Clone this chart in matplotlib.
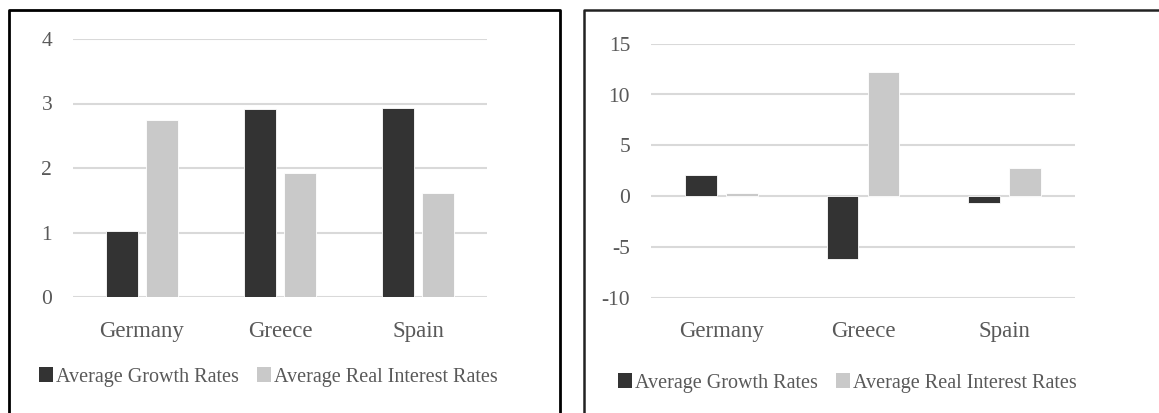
import matplotlib
matplotlib.use("Agg")
import matplotlib.pyplot as plt
from matplotlib.patches import Patch
from matplotlib.lines import Line2D
import numpy as np

countries = ["Germany", "Greece", "Spain"]
series_names = ["Average Growth Rates", "Average Real Interest Rates"]

# Panel A
growth_a = [1.02, 2.92, 2.93]
interest_a = [2.74, 1.92, 1.62]
yticks_a = [0, 1, 2, 3, 4]

# Panel B
growth_b = [2.04, -6.16, -0.72]
interest_b = [0.27, 12.17, 2.79]
yticks_b = [-10, -5, 0, 5, 10, 15]

DARK = "#333333"
LIGHT = "#c9c9c9"
GRID = "#d9d9d9"
TEXT = "#595959"

plt.rcParams["font.family"] = ["Liberation Serif", "DejaVu Serif"]

W, H = 1159, 413
fig = plt.figure(figsize=(W / 100, H / 100), dpi=100)
fig.patch.set_facecolor("white")


def px_axes(x0, y0, x1, y1):
    return fig.add_axes([x0 / W, 1 - y1 / H, (x1 - x0) / W, (y1 - y0) / H])


def draw_panel(ax, growth, interest, yticks, legend_center):
    x = np.arange(len(countries))
    w = 0.225
    off = 0.145
    ax.bar(x - off, growth, w, color=DARK, edgecolor="white", linewidth=0.6, zorder=3)
    ax.bar(x + off, interest, w, color=LIGHT, edgecolor="white", linewidth=0.6, zorder=3)
    ax.set_xlim(-0.5, len(countries) - 0.5)
    ax.set_ylim(yticks[0], yticks[-1])
    ax.set_yticks(yticks)
    ax.set_yticklabels([str(t) for t in yticks])
    ax.set_xticks(x)
    ax.set_xticklabels(countries)
    ax.grid(axis="y", color=GRID, linewidth=1.5, zorder=0)
    ax.set_axisbelow(True)
    for s in ax.spines.values():
        s.set_visible(False)
    ax.tick_params(axis="y", length=0, pad=15, labelsize=15.5, labelcolor=TEXT)
    ax.tick_params(axis="x", length=0, pad=17, labelsize=16.5, labelcolor=TEXT)
    handles = [Patch(facecolor=DARK, edgecolor="none"),
               Patch(facecolor=LIGHT, edgecolor="none")]
    fig.legend(handles, series_names, loc="center",
               bbox_to_anchor=(legend_center[0] / W, 1 - legend_center[1] / H),
               ncol=2, frameon=False, handlelength=0.7, handleheight=0.7,
               handletextpad=0.15, columnspacing=0.9,
               prop={"size": 14.5}, labelcolor=TEXT)


ax1 = px_axes(73, 39, 487, 297)
draw_panel(ax1, growth_a, interest_a, yticks_a, (268, 377))

ax2 = px_axes(651, 43.7, 1075, 297.7)
draw_panel(ax2, growth_b, interest_b, yticks_b, (847, 383))


def fig_line(xs, ys, lw, color="black"):
    fig.add_artist(Line2D([x / W for x in xs], [1 - y / H for y in ys],
                          color=color, linewidth=lw, solid_capstyle="projecting"))


# Panel frames (open at the bottom)
fig_line([9, 9, 560, 560], [H + 5, 10, 10, H + 5], 2.0)
fig_line([584, 584, W + 5], [H + 5, 10, 10], 1.8, color="#222222")

fig.savefig("out.png", dpi=100)
